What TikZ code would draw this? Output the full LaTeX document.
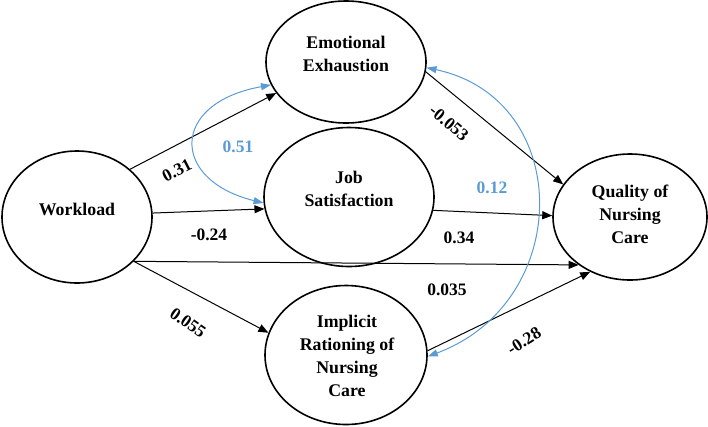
\documentclass[tikz,border=0pt]{standalone}
\usepackage{fontspec}
\setmainfont{Liberation Serif}
\usetikzlibrary{shapes.geometric,arrows.meta}
\definecolor{blueline}{RGB}{91,155,213}
\begin{document}
\begin{tikzpicture}[x=1pt,y=-1pt,
  latent/.style={ellipse,draw=black,line width=1.6pt,inner sep=0pt},
  txt/.style={font=\fontsize{17.8}{23}\selectfont\bfseries,align=center,inner sep=0pt},
  regpath/.style={line width=1pt,-{Triangle[length=10pt,width=8pt]}},
  cov/.style={draw=blueline,line width=1pt,{Triangle[length=10pt,width=7pt]}-{Triangle[length=10pt,width=7pt]}},
  coef/.style={font=\fontsize{17.5}{20}\selectfont\bfseries,inner sep=0pt},
  bcoef/.style={coef,text=blueline}]
\useasboundingbox (0,0) rectangle (708,426);
% latent variables
\node[latent,minimum width=150pt,minimum height=132pt] (wl) at (77,217) {};
\node[latent,minimum width=160pt,minimum height=122pt] (ee) at (346,62) {};
\node[latent,minimum width=170pt,minimum height=139pt] (js) at (349,197) {};
\node[latent,minimum width=162pt,minimum height=139pt] (ir) at (346,355) {};
\node[latent,minimum width=154pt,minimum height=126pt] (qnc) at (630,217) {};
% texts
\node[txt] (wlt) at (77,209) {Workload};
\node[txt] (eet) at (346,54) {Emotional\\Exhaustion};
\node[txt] (jst) at (349,189) {Job\\Satisfaction};
\node[txt] (irt) at (347,356) {Implicit\\Rationing of\\Nursing\\Care};
\node[txt] (qnct) at (630,214) {Quality of\\Nursing\\Care};
% structural paths
\draw[regpath] (wl.42) -- (ee.204);
\draw[regpath] (wl.3) -- (js.188);
\draw[regpath] (wl.-38) -- (qnc.223);
\draw[regpath] (wl.-38) -- (ir.164);
\draw[regpath] (js.-9) -- (qnc.179);
\draw[regpath] (ee.-7) -- (qnc.154);
\draw[regpath] (ir.3) -- (qnc.234);
% covariances
\draw[cov] (ee.197) .. controls (170,103) and (170,180) .. (js.184);
\draw[cov] (ee.-4) .. controls (574,99) and (574,302) .. (ir.-1);
% coefficients
\node[coef,rotate=27] (c1) at (177,170) {0.31};
\node[bcoef] (c2) at (238,147) {0.51};
\node[coef] (c3) at (209,235) {-0.24};
\node[coef,rotate=-35] (c4) at (188,323) {0.055};
\node[coef,rotate=-40] (c5) at (449,123) {-0.053};
\node[bcoef] (c6) at (492,188) {0.12};
\node[coef] (c7) at (459,238) {0.34};
\node[coef] (c8) at (447,290) {0.035};
\node[coef,rotate=32] (c9) at (524,341) {-0.28};
\end{tikzpicture}
\end{document}
